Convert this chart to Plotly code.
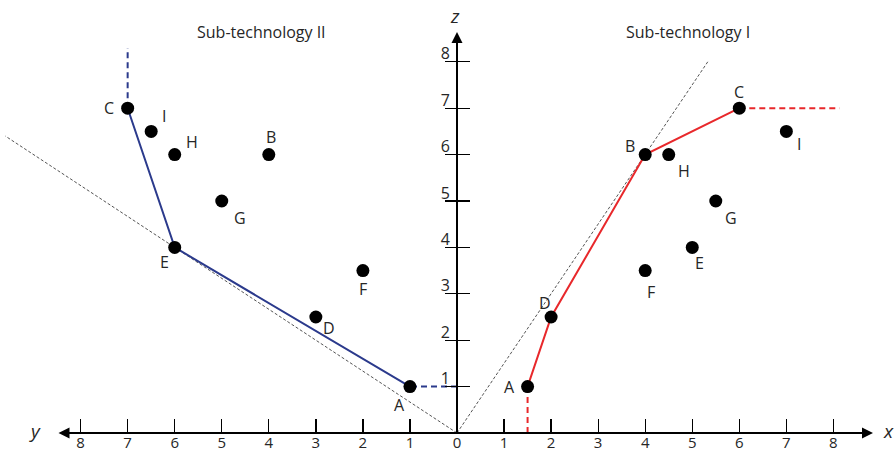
import plotly.graph_objects as go

# ---------------- data ----------------
# Sub-technology I (right half: x axis)
sub1_names = ["A", "B", "C", "D", "E", "F", "G", "H", "I"]
sub1_x = [1.5, 4, 6, 2, 5, 4, 5.5, 4.5, 7]
sub1_z = [1, 6, 7, 2.5, 4, 3.5, 5, 6, 6.5]
frontier1_x = [1.5, 2, 4, 6]
frontier1_z = [1, 2.5, 6, 7]
ext1_down_x = [1.5, 1.5]
ext1_down_z = [0, 1]
ext1_right_x = [6, 8.13]
ext1_right_z = [7, 7]
ray1_x = [0, 5.33]
ray1_z = [0, 8.0]

# Sub-technology II (left half: y axis, drawn leftwards)
sub2_names = ["A", "B", "C", "D", "E", "F", "G", "H", "I"]
sub2_y = [1, 4, 7, 3, 6, 2, 5, 6, 6.5]
sub2_z = [1, 6, 7, 2.5, 4, 3.5, 5, 6, 6.5]
frontier2_y = [1, 6, 7]
frontier2_z = [1, 4, 7]
ext2_left_y = [0, 1]
ext2_left_z = [1, 1]
ext2_up_y = [7, 7]
ext2_up_z = [7, 8.3]
ray2_y = [0, 9.6]
ray2_z = [0, 6.4]

x_ticks = [1, 2, 3, 4, 5, 6, 7, 8]
y_ticks = [1, 2, 3, 4, 5, 6, 7, 8]
z_ticks = [1, 2, 3, 4, 5, 6, 7, 8]

titles = ["Sub-technology II", "Sub-technology I"]

# ---------------- style ----------------
W, H = 894, 454
PX_X = 47.05          # px per unit horizontally
PX_Z = 46.4           # px per unit vertically
ORIGIN_PX = 457
BOTTOM_MARGIN = 21
FONT = "Open Sans"
RED = "#e8282b"
BLUE = "#2b3a8c"
GREY = "#555555"
TXT = "#262626"

# label offsets in pixels (dx, dy up)
off1 = {"A": (-18, 0), "D": (-6, 14), "B": (-15, 9), "C": (0, 16), "H": (15, -16),
        "I": (13, -13), "G": (15, -17), "E": (7, -16), "F": (6, -21)}
off2 = {"A": (-10, -18), "D": (13, -11), "F": (0, -18), "C": (-19, 0), "I": (13, 15),
        "H": (17, 13), "B": (2, 18), "G": (18, -17), "E": (-10, -15)}

neg = lambda seq: [-v for v in seq]

fig = go.Figure()

# grey reference rays
fig.add_trace(go.Scatter(x=ray1_x, y=ray1_z, mode="lines",
                         line=dict(color=GREY, width=1, dash="3px,2px"), hoverinfo="skip"))
fig.add_trace(go.Scatter(x=neg(ray2_y), y=ray2_z, mode="lines",
                         line=dict(color=GREY, width=1, dash="3px,2px"), hoverinfo="skip"))

# frontier I (red)
fig.add_trace(go.Scatter(x=frontier1_x, y=frontier1_z, mode="lines",
                         line=dict(color=RED, width=2)))
for xs, zs in [(ext1_down_x, ext1_down_z), (ext1_right_x, ext1_right_z)]:
    fig.add_trace(go.Scatter(x=xs, y=zs, mode="lines",
                             line=dict(color=RED, width=2, dash="6px,4px")))

# frontier II (blue)
fig.add_trace(go.Scatter(x=neg(frontier2_y), y=frontier2_z, mode="lines",
                         line=dict(color=BLUE, width=2)))
for ys, zs in [(ext2_left_y, ext2_left_z), (ext2_up_y, ext2_up_z)]:
    fig.add_trace(go.Scatter(x=neg(ys), y=zs, mode="lines",
                             line=dict(color=BLUE, width=2, dash="6px,4px")))

# points
fig.add_trace(go.Scatter(x=sub1_x, y=sub1_z, mode="markers",
                         marker=dict(color="black", size=13)))
fig.add_trace(go.Scatter(x=neg(sub2_y), y=sub2_z, mode="markers",
                         marker=dict(color="black", size=13)))

# dummy trace for second y axis (tick marks on the right of z axis)
fig.add_trace(go.Scatter(x=[None], y=[None], yaxis="y2", showlegend=False))

annotations = []
for n, xv, zv in zip(sub1_names, sub1_x, sub1_z):
    dx, dy = off1[n]
    annotations.append(dict(x=xv, y=zv, text=n, showarrow=False, xshift=dx, yshift=dy,
                            font=dict(family=FONT, size=16, color=TXT)))
for n, yv, zv in zip(sub2_names, sub2_y, sub2_z):
    dx, dy = off2[n]
    annotations.append(dict(x=-yv, y=zv, text=n, showarrow=False, xshift=dx, yshift=dy,
                            font=dict(family=FONT, size=16, color=TXT)))

# axis arrows
x_left = (57 - ORIGIN_PX) / PX_X
x_right = (873 - ORIGIN_PX) / PX_X
z_top = (433 - 32) / PX_Z
annotations.append(dict(x=x_right, y=0, ax=x_left, ay=0, axref="x", ayref="y", text="",
                        showarrow=True, arrowhead=2, arrowsize=1.1, arrowwidth=2,
                        arrowside="end+start", arrowcolor="black", standoff=0, startstandoff=0))
annotations.append(dict(x=0, y=z_top, ax=0, ay=0, axref="x", ayref="y", text="",
                        showarrow=True, arrowhead=2, arrowsize=1.1, arrowwidth=2,
                        arrowcolor="black", standoff=0))
# axis names
annotations.append(dict(x=(35 - ORIGIN_PX) / PX_X, y=0, text="<i>y</i>", showarrow=False,
                        font=dict(family=FONT, size=19, color=TXT), yshift=2))
annotations.append(dict(x=(888 - ORIGIN_PX) / PX_X, y=0, text="<i>x</i>", showarrow=False,
                        font=dict(family=FONT, size=19, color=TXT), yshift=2))
annotations.append(dict(x=0, y=(433 - 16) / PX_Z, text="<i>z</i>", showarrow=False,
                        font=dict(family=FONT, size=19, color=TXT), xshift=-2))
# titles
annotations.append(dict(x=(261 - ORIGIN_PX) / PX_X, y=(433 - 32) / PX_Z, text=titles[0],
                        showarrow=False, font=dict(family=FONT, size=16, color=TXT)))
annotations.append(dict(x=(688 - ORIGIN_PX) / PX_X, y=(433 - 32) / PX_Z, text=titles[1],
                        showarrow=False, font=dict(family=FONT, size=16, color=TXT)))

x_tickvals = [-v for v in reversed(y_ticks)] + [0] + x_ticks
x_ticktext = [str(v) for v in reversed(y_ticks)] + ["0"] + [str(v) for v in x_ticks]

zrange = [0, (H - BOTTOM_MARGIN) / PX_Z]
ypos = ORIGIN_PX / W

fig.update_layout(
    width=W, height=H, autosize=False,
    margin=dict(l=0, r=0, t=0, b=BOTTOM_MARGIN, pad=0, autoexpand=False),
    paper_bgcolor="white", plot_bgcolor="white",
    showlegend=False,
    annotations=annotations,
    xaxis=dict(range=[-ORIGIN_PX / PX_X, (W - ORIGIN_PX) / PX_X], showgrid=False,
               zeroline=False, showline=False, ticks="inside", ticklen=14, tickwidth=1.3,
               tickcolor="black", tickvals=x_tickvals, ticktext=x_ticktext, automargin=False,
               tickfont=dict(family=FONT, size=15, color=TXT), ticklabelstandoff=-1),
    yaxis=dict(range=zrange, showgrid=False, zeroline=False, showline=False, automargin=False,
               anchor="free", position=ypos, ticks="outside", ticklen=12, tickwidth=1.3,
               tickcolor="black", tickvals=z_ticks, showticklabels=False),
    yaxis2=dict(range=zrange, overlaying="y", showgrid=False, zeroline=False, automargin=False,
                showline=False, anchor="free", position=ypos, side="left",
                ticks="inside", ticklen=12, tickwidth=1.3, tickcolor="black",
                tickvals=z_ticks, ticktext=[str(v) for v in z_ticks],
                ticklabelshift=-8, ticklabelstandoff=7,
                tickfont=dict(family=FONT, size=16, color=TXT)),
)

fig.write_html("out.html", config={"displayModeBar": False, "staticPlot": True},
               post_script="document.body.style.margin='0';")
